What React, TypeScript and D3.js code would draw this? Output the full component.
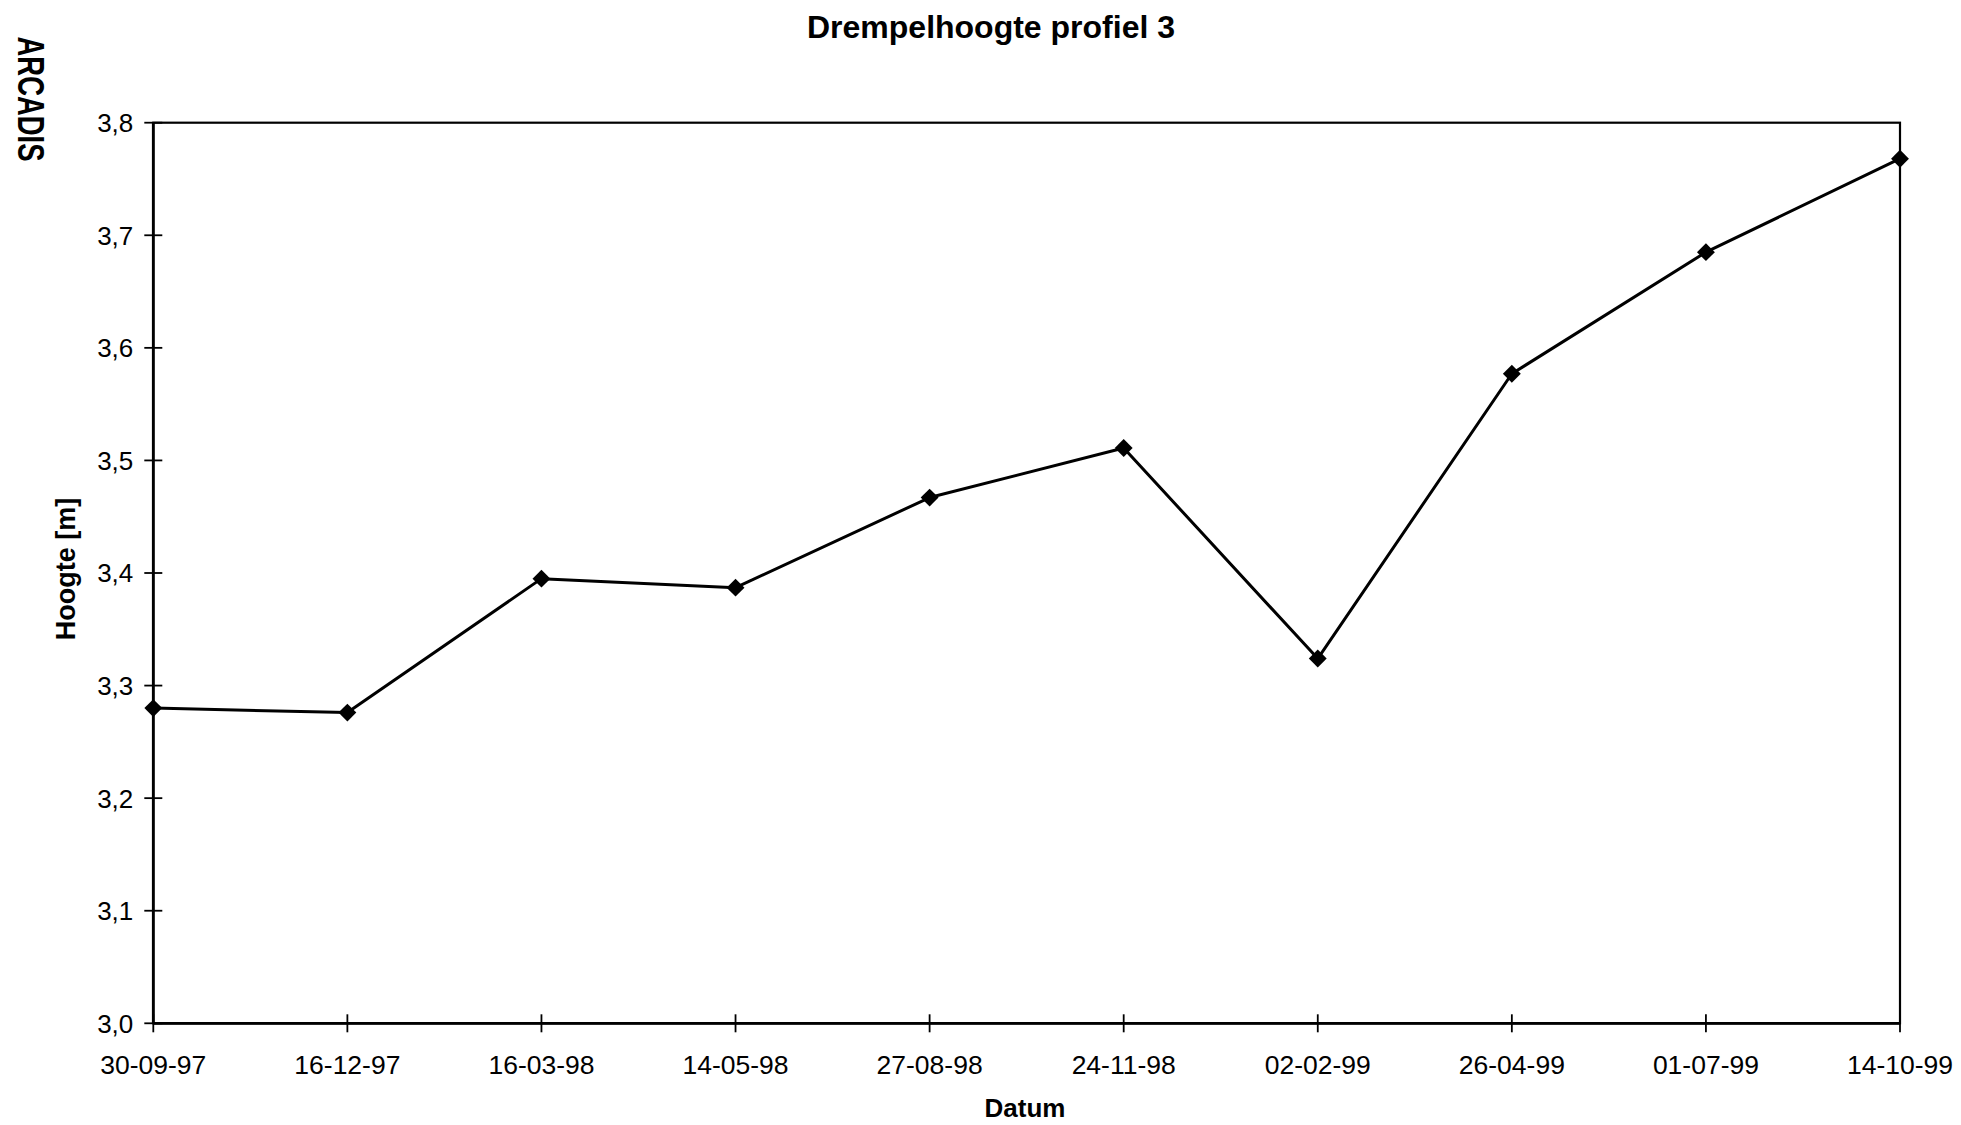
import React, { useEffect, useRef } from "react";
import * as d3 from "d3";

// Measurement dates (dd-mm-yy) and threshold heights in metres
const dates: string[] = [
  "30-09-97",
  "16-12-97",
  "16-03-98",
  "14-05-98",
  "27-08-98",
  "24-11-98",
  "02-02-99",
  "26-04-99",
  "01-07-99",
  "14-10-99",
];
const heights: number[] = [3.28, 3.276, 3.395, 3.387, 3.467, 3.511, 3.324, 3.577, 3.685, 3.768];
const yTicks: number[] = [3.0, 3.1, 3.2, 3.3, 3.4, 3.5, 3.6, 3.7, 3.8];

const title = "Drempelhoogte profiel 3";
const xTitle = "Datum";
const yTitle = "Hoogte [m]";
const brand = "ARCADIS";

const W = 1961;
const H = 1125;
const FONT = "'Liberation Sans', Arial, Helvetica, sans-serif";

export default function App() {
  const ref = useRef<SVGSVGElement | null>(null);

  useEffect(() => {
    const svg = d3.select(ref.current);
    svg.selectAll("*").remove();

    const left = 153.3;
    const right = 1900;
    const top = 122.7;
    const bottom = 1023.3;

    const x = d3.scalePoint<string>().domain(dates).range([left, right]);
    const y = d3.scaleLinear().domain([3.0, 3.8]).range([bottom, top]);

    // plot frame
    svg
      .append("rect")
      .attr("x", left)
      .attr("y", top)
      .attr("width", right - left)
      .attr("height", bottom - top)
      .attr("fill", "none")
      .attr("stroke", "#000")
      .attr("stroke-width", 2.2);

    // left and bottom axis lines
    svg
      .append("line")
      .attr("x1", left)
      .attr("x2", left)
      .attr("y1", top)
      .attr("y2", bottom)
      .attr("stroke", "#000")
      .attr("stroke-width", 2.8);
    svg
      .append("line")
      .attr("x1", left)
      .attr("x2", right)
      .attr("y1", bottom)
      .attr("y2", bottom)
      .attr("stroke", "#000")
      .attr("stroke-width", 2.8);

    const yt = svg.append("g");
    yTicks.forEach((t) => {
      yt.append("line")
        .attr("x1", left - 9)
        .attr("x2", left + 9)
        .attr("y1", y(t))
        .attr("y2", y(t))
        .attr("stroke", "#000")
        .attr("stroke-width", 1.8);
      yt.append("text")
        .attr("x", left - 20)
        .attr("y", y(t))
        .attr("dy", "0.36em")
        .attr("text-anchor", "end")
        .attr("font-family", FONT)
        .attr("font-size", 26)
        .attr("fill", "#000")
        .text(d3.format(".1f")(t).replace(".", ","));
    });

    const xt = svg.append("g");
    dates.forEach((d) => {
      const px = x(d) as number;
      xt.append("line")
        .attr("x1", px)
        .attr("x2", px)
        .attr("y1", bottom - 9)
        .attr("y2", bottom + 9)
        .attr("stroke", "#000")
        .attr("stroke-width", 1.8);
      xt.append("text")
        .attr("x", px)
        .attr("y", 1074)
        .attr("text-anchor", "middle")
        .attr("font-family", FONT)
        .attr("font-size", 26.5)
        .attr("fill", "#000")
        .text(d);
    });

    // data line
    const pts = dates.map((d, i) => [x(d) as number, y(heights[i])] as [number, number]);
    svg
      .append("path")
      .attr("d", d3.line()(pts))
      .attr("fill", "none")
      .attr("stroke", "#000")
      .attr("stroke-width", 3)
      .attr("stroke-linejoin", "round");

    // diamond markers
    const sym = d3.symbol().type(d3.symbolSquare).size(160);
    svg
      .append("g")
      .selectAll("path")
      .data(pts)
      .join("path")
      .attr("d", sym() as string)
      .attr("transform", (p) => `translate(${p[0]},${p[1]}) rotate(45)`)
      .attr("fill", "#000");

    // titles
    svg
      .append("text")
      .attr("x", 991)
      .attr("y", 38)
      .attr("text-anchor", "middle")
      .attr("font-family", FONT)
      .attr("font-weight", "bold")
      .attr("font-size", 32)
      .attr("fill", "#000")
      .text(title);

    svg
      .append("text")
      .attr("x", 1025)
      .attr("y", 1117)
      .attr("text-anchor", "middle")
      .attr("font-family", FONT)
      .attr("font-weight", "bold")
      .attr("font-size", 26)
      .attr("fill", "#000")
      .text(xTitle);

    svg
      .append("text")
      .attr("transform", `translate(75,569) rotate(-90)`)
      .attr("text-anchor", "middle")
      .attr("font-family", FONT)
      .attr("font-weight", "bold")
      .attr("font-size", 27)
      .attr("fill", "#000")
      .text(yTitle);

    svg
      .append("text")
      .attr("transform", `translate(18,99) rotate(90)`)
      .attr("text-anchor", "middle")
      .attr("font-family", "'Liberation Sans Narrow', 'Liberation Sans', Arial, sans-serif")
      .attr("font-weight", "bold")
      .attr("font-size", 37)
      .attr("textLength", 125)
      .attr("lengthAdjust", "spacingAndGlyphs")
      .attr("fill", "#000")
      .text(brand);
  }, []);

  return (
    <svg
      ref={ref}
      width={W}
      height={H}
      viewBox={`0 0 ${W} ${H}`}
      style={{ position: "absolute", left: 0, top: 0, background: "#fff" }}
    />
  );
}
